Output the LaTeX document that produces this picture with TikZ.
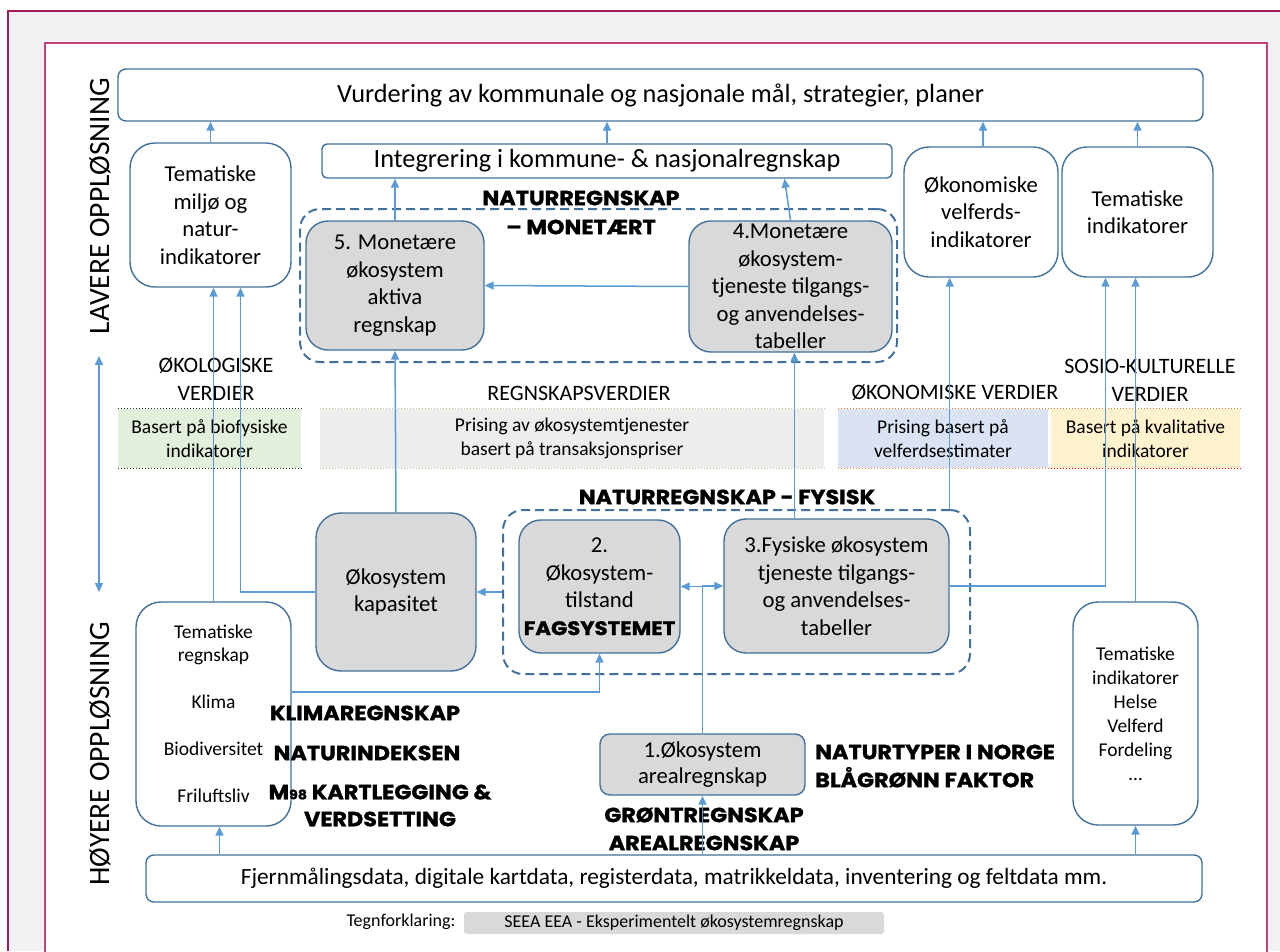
\documentclass[tikz,border=0pt]{standalone}
\usepackage{fontspec}
\setmainfont{Carlito}
\newfontfamily\heavyfont[FakeStretch=1.09, BoldFeatures={FakeBold=1.3}]{Poppins}
\usetikzlibrary{arrows.meta}

\definecolor{boxblue}{HTML}{41719C}
\definecolor{arrblue}{HTML}{5B9BD5}
\definecolor{boxgray}{HTML}{D9D9D9}
\definecolor{pagegray}{HTML}{F2F2F4}
\definecolor{framepink}{HTML}{C0407A}
\definecolor{darkpink}{HTML}{A3195B}
\definecolor{valgreen}{HTML}{E2EFDA}
\definecolor{valgray}{HTML}{EDEDED}
\definecolor{valblue}{HTML}{DAE3F3}
\definecolor{valyellow}{HTML}{FFF2CC}
\definecolor{dotgreen}{HTML}{A9D18E}
\definecolor{dotorange}{HTML}{ED7D31}
\definecolor{dotred}{HTML}{FF0000}

\newcommand{\largetxt}{\fontsize{26.3}{30}\selectfont}
\newcommand{\boxtxt}{\fontsize{22.7}{27.5}\selectfont}
\newcommand{\smalltxt}{\fontsize{19.5}{23.5}\selectfont}
\newcommand{\verditxt}{\fontsize{22}{28}\selectfont}
\newcommand{\heavytxt}{\heavyfont\bfseries\fontsize{20.5}{28}\selectfont}

\tikzset{
  >={Triangle[length=9pt,width=8pt]},
  box/.style={draw=boxblue, line width=1.4pt, rounded corners=#1, align=center, inner sep=0pt},
  box/.default=25pt,
  grabox/.style={box=#1, fill=boxgray},
  grabox/.default=22pt,
  grp/.style={draw=boxblue, line width=2pt, dash pattern=on 9pt off 5pt, rounded corners=20pt},
  arr/.style={->, draw=arrblue, line width=1.5pt},
  valbox/.style={fill=#1, minimum height=59pt, inner sep=0pt, align=center, font=\smalltxt},
  dotline/.style={line width=1pt, dash pattern=on 1.5pt off 1.5pt},
  verdi/.style={align=center, inner sep=0pt, font=\verditxt},
  heavy/.style={align=center, inner sep=0pt, font=\heavytxt}
}

\begin{document}
\begin{tikzpicture}[x=1pt, y=-1pt]
  \useasboundingbox (0,0) rectangle (1280,951);
  % page frame
  \fill[white] (0,0) rectangle (1280,951);
  \fill[pagegray] (8,11) rectangle (1280,951);
  \draw[darkpink, line width=1.2pt] (8,951) -- (8,11) -- (1280,11);
  \fill[white] (45,43) rectangle (1267,956);
  \draw[framepink, line width=1.6pt] (45,956) -- (45,43) -- (1267,43) -- (1267,956);

  \node[rotate=90, font=\fontsize{29.5}{30}\selectfont] (laverelbl) at (100,206) {LAVERE OPPLØSNING};
  \node[rotate=90, font=\fontsize{29.5}{30}\selectfont] (hoyerelbl) at (100,754) {HØYERE OPPLØSNING};
  \coordinate (oppe) at (99,356);
  \coordinate (nede) at (99,592);
  \draw[arr, <->] (nede) -- (oppe);

  % top row
  \node[box=8pt, minimum width=1085pt, minimum height=52pt, font=\largetxt] (vurd) at (660.5,95) {Vurdering av kommunale og nasjonale mål, strategier, planer};
  \node[box, minimum width=161pt, minimum height=144pt, font=\boxtxt] (temmil) at (210.5,215) {Tematiske\\miljø og\\natur-\\indikatorer};
  \node[box=5pt, minimum width=570pt, minimum height=34pt, font=\largetxt] (integ) at (607,161) {Integrering i kommune- \& nasjonalregnskap};
  \node[box, minimum width=154pt, minimum height=130pt, font=\boxtxt] (okvel) at (981,212) {Økonomiske\\velferds-\\indikatorer};
  \node[box, minimum width=151pt, minimum height=130pt, font=\boxtxt] (temind) at (1137.5,212) {Tematiske\\indikatorer};

  % monetary accounts
  \node[grp, minimum width=597pt, minimum height=153pt] (mongrp) at (598.5,285.5) {};
  \node[heavy, font={\heavyfont\bfseries\fontsize{20.5}{29}\selectfont}] (monlbl) at (581,212.5) {NATURREGNSKAP\\– MONETÆRT};
  \node[grabox, minimum width=178pt, minimum height=129pt, font=\boxtxt] (b5) at (395,285.5) {5. Monetære\\økosystem\\aktiva\\regnskap};
  \node[grabox, minimum width=203pt, minimum height=131pt, font=\boxtxt] (b4) at (790.5,286.5) {4.Monetære\\økosystem-\\tjeneste tilgangs-\\og anvendelses-\\tabeller};

  % value types
  \node[verdi] (okolbl) at (216,379) {ØKOLOGISKE\\VERDIER};
  \node[verdi] (regnlbl) at (579,393) {REGNSKAPSVERDIER};
  \node[verdi] (okonlbl) at (955,393) {ØKONOMISKE VERDIER};
  \node[verdi] (sosiolbl) at (1150,380) {SOSIO-KULTURELLE\\VERDIER};
  \node[valbox=valgreen, minimum width=183pt] (gronn) at (209.5,438.5) {Basert på biofysiske\\indikatorer};
  \node[valbox=valgray, minimum width=504pt] (gra) at (572,438.5) {Prising av økosystemtjenester\\basert på transaksjonspriser};
  \node[valbox=valblue, minimum width=210pt] (bla) at (943,438.5) {Prising basert på\\velferdsestimater};
  \node[valbox=valyellow, minimum width=189pt] (gul) at (1145.5,438.5) {Basert på kvalitative\\indikatorer};
  \draw[dotline, black!80] (gronn.north west) -- (gronn.north east);
  \draw[dotline, black!80] (gronn.south west) -- (gronn.south east);
  \draw[dotline, dotgreen] (gra.north west) -- (gra.north east);
  \draw[dotline, dotgreen] (gra.south west) -- (gra.south east);
  \draw[dotline, dotorange] (bla.north west) -- (bla.north east);
  \draw[dotline, dotorange] (bla.south west) -- (bla.south east);
  \draw[dotline, dotorange] (gul.north west) -- (gul.north east);
  \draw[dotline, dotred] (gul.south west) -- (gul.south east);

  % physical accounts
  \node[grp, minimum width=467pt, minimum height=164pt] (fysgrp) at (736.5,592) {};
  \node[heavy] (fyslbl) at (727,497) {NATURREGNSKAP - FYSISK};
  \node[grabox=25pt, minimum width=160pt, minimum height=158pt, font=\boxtxt] (kap) at (396,592) {Økosystem\\kapasitet};
  \node[grabox, minimum width=161pt, minimum height=133pt, font=\boxtxt] (b2) at (599.5,586.5) {2.\\Økosystem-\\tilstand\\{\heavyfont\bfseries\fontsize{19.5}{27.5}\selectfont FAGSYSTEMET}};
  \node[grabox, minimum width=225pt, minimum height=134pt, font=\boxtxt] (b3) at (836.5,586) {3.Fysiske økosystem\\tjeneste tilgangs-\\og anvendelses-\\tabeller};

  % lower row
  \node[box, minimum width=155pt, minimum height=224pt, font=\smalltxt] (temreg) at (213.5,714) {Tematiske\\regnskap\\[23.5pt]Klima\\[23.5pt]Biodiversitet\\[23.5pt]Friluftsliv};
  \node[heavy] (klimalbl) at (365,713) {KLIMAREGNSKAP};
  \node[heavy] (indekslbl) at (367,753) {NATURINDEKSEN};
  \node[heavy, font={\heavyfont\bfseries\fontsize{20.5}{27}\selectfont}] (kartlbl) at (380,805.5) {M{\fontsize{13}{13}\selectfont 98} KARTLEGGING \&\\VERDSETTING};
  \node[grabox=10pt, minimum width=205pt, minimum height=61pt, font=\fontsize{22.7}{26}\selectfont] (b1) at (702.5,764.5) {1.Økosystem\\arealregnskap};
  \node[heavy, align=left, anchor=west] (typelbl) at (815,766) {NATURTYPER I NORGE\\BLÅGRØNN FAKTOR};
  \node[heavy] (gronlbl) at (704,829) {GRØNTREGNSKAP\\AREALREGNSKAP};
  \node[box, minimum width=125pt, minimum height=223pt, font=\fontsize{19.5}{24}\selectfont] (temind2) at (1135.5,713.5) {Tematiske\\indikatorer\\Helse\\Velferd\\Fordeling\\…};
  \node[box=8pt, minimum width=1056pt, minimum height=47pt, font=\fontsize{23.3}{27}\selectfont] (fjern) at (674,878.5) {Fjernmålingsdata, digitale kartdata, registerdata, matrikkeldata, inventering og feltdata mm.};

  % legend
  \node[font=\fontsize{18}{20}\selectfont] (tegnlbl) at (401,922) {Tegnforklaring:};
  \node[fill=boxgray, rounded corners=3pt, minimum width=420pt, minimum height=22pt, inner sep=0pt, font=\fontsize{18}{20}\selectfont] (tegnbox) at (674,923) {SEEA EEA - Eksperimentelt økosystemregnskap};

  % connectors
  \draw[arr] (temmil.north) -- (temmil.north |- vurd.south);
  \draw[arr] (integ.north) -- (integ.north |- vurd.south);
  \draw[arr] ([xshift=2pt]okvel.north) -- ([xshift=2pt]okvel.north |- vurd.south);
  \draw[arr] (temind.north) -- (temind.north |- vurd.south);
  \draw[arr] (b5.north) -- (b5.north |- integ.south);
  \draw[arr] (b4.north) -- ([xshift=-6pt]b4.north |- integ.south);
  \draw[arr] (b4.west) -- (b5.east);
  \draw[arr] (kap.north) -- (b5.south);
  \draw[arr] ([xshift=4pt]b4.south |- b3.north) -- ([xshift=4pt]b4.south);
  \draw[arr] (b3.north east |- fysgrp.north) -- (b3.north east |- okvel.south);
  \draw[arr] (b3.east) -| ([xshift=-32pt]temind.south);
  \draw[arr] (temind2.north) -- (temind2.north |- temind.south);
  \draw[arr] (temreg.north) -- (temreg.north |- temmil.south);
  \draw[arr] (kap.west) -| ([xshift=30pt]temmil.south);
  \draw[arr] (fysgrp.west) -- (kap.east);
  \draw[arr] (b1.north) |- (b2.east);
  \draw[arr] (b1.north) |- (b3.west);
  \draw[arr] ([yshift=22pt]temreg.east) -| (b2.south);
  \draw[arr] ([xshift=6pt]temreg.south |- fjern.north) -- ([xshift=6pt]temreg.south);
  \draw[arr] (b1.south |- fjern.north) -- (b1.south);
  \draw[arr] (temind2.south |- fjern.north) -- (temind2.south);
\end{tikzpicture}
\end{document}
